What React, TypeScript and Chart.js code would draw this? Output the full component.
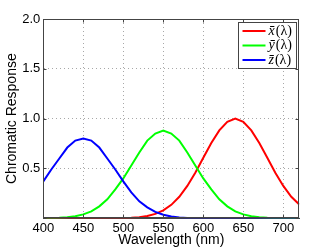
import React, { useEffect, useRef } from 'react';
import { Chart, registerables } from 'chart.js';

Chart.register(...registerables);

const wavelengths = [400, 410, 420, 430, 440, 450, 460, 470, 480, 490, 500, 510, 520, 530, 540, 550, 560, 570, 580, 590, 600, 610, 620, 630, 640, 650, 660, 670, 680, 690, 700, 710, 720];
const xBar = [0, 0, 0, 0, 0, 0, 0, 0.0001, 0.0003, 0.001, 0.002, 0.005, 0.011, 0.023, 0.044, 0.08, 0.135, 0.216, 0.325, 0.458, 0.607, 0.755, 0.882, 0.969, 1.0, 0.969, 0.882, 0.755, 0.607, 0.458, 0.325, 0.216, 0.138];
const yBar = [0.001, 0.002, 0.005, 0.01, 0.02, 0.039, 0.07, 0.12, 0.19, 0.29, 0.4, 0.53, 0.66, 0.78, 0.85, 0.88, 0.85, 0.78, 0.66, 0.53, 0.4, 0.29, 0.19, 0.12, 0.07, 0.039, 0.02, 0.01, 0.005, 0.002, 0.001, 0.0003, 0.0001];
const zBar = [0.37, 0.49, 0.6, 0.71, 0.78, 0.8, 0.78, 0.71, 0.6, 0.49, 0.37, 0.26, 0.17, 0.11, 0.064, 0.035, 0.018, 0.009, 0.004, 0.002, 0.001, 0.0003, 0.0001, 0, 0, 0, 0, 0, 0, 0, 0, 0, 0];
const symbols = ['x', 'y', 'z'];
const seriesColors = ['#ff0000', '#00ff00', '#0000ff'];
const xTicks = [400, 450, 500, 550, 600, 650, 700];
const yTicks = [0, 0.5, 1.0, 1.5, 2.0];

const SANS = '"Liberation Sans", Arial, Helvetica, sans-serif';
const SERIF = '"Liberation Serif", "Times New Roman", serif';

const framePlugin = {
  id: 'matlabFrame',
  afterDatasetsDraw(chart: any) {
    const { ctx, chartArea: a, scales } = chart;
    ctx.save();
    ctx.strokeStyle = '#444';
    ctx.lineWidth = 1;
    const L = Math.round(a.left) + 0.5;
    const R = Math.round(a.right) - 0.5;
    const T = Math.round(a.top) + 0.5;
    const B = Math.round(a.bottom) - 0.5;
    ctx.strokeRect(L, T, R - L, B - T);
    ctx.beginPath();
    const tl = 3;
    xTicks.forEach((v) => {
      const px = Math.round(scales.x.getPixelForValue(v)) + 0.5;
      ctx.moveTo(px, B); ctx.lineTo(px, B - tl);
      ctx.moveTo(px, T); ctx.lineTo(px, T + tl);
    });
    yTicks.forEach((v) => {
      const py = Math.round(scales.y.getPixelForValue(v)) + 0.5;
      ctx.moveTo(L, py); ctx.lineTo(L + tl, py);
      ctx.moveTo(R, py); ctx.lineTo(R - tl, py);
    });
    ctx.stroke();
    ctx.restore();
  },
  afterDraw(chart: any) {
    const { ctx, chartArea: a } = chart;
    const ds = chart.data.datasets;
    const boxR = Math.round(a.right) - 2.5;
    const boxT = Math.round(a.top) + 3.5;
    const boxW = 58;
    const boxH = 46;
    const boxL = boxR - boxW;
    ctx.save();
    ctx.fillStyle = '#fff';
    ctx.fillRect(boxL, boxT, boxW, boxH);
    ctx.strokeStyle = '#444';
    ctx.lineWidth = 1;
    ctx.strokeRect(boxL, boxT, boxW, boxH);
    ds.forEach((d: any, i: number) => {
      const y = boxT + 8.5 + i * 14.5;
      ctx.strokeStyle = d.borderColor;
      ctx.lineWidth = 2;
      ctx.beginPath();
      ctx.moveTo(boxL + 4, y);
      ctx.lineTo(boxL + 27, y);
      ctx.stroke();
      ctx.fillStyle = '#000';
      ctx.textBaseline = 'middle';
      ctx.textAlign = 'left';
      const sym = d.symbol as string;
      ctx.font = `italic 14px ${SERIF}`;
      const tx = boxL + 30;
      ctx.fillText(sym + '\u0304', tx, y);
      const w = ctx.measureText(sym).width;
      ctx.font = `14px ${SERIF}`;
      ctx.fillText('(λ)', tx + w + 1, y);
    });
    ctx.restore();
  },
};

export default function App() {
  const ref = useRef<HTMLCanvasElement | null>(null);
  useEffect(() => {
    document.body.style.margin = '0';
    const canvas = ref.current!;
    const series = [xBar, yBar, zBar];
    const chart = new Chart(canvas, {
      type: 'line',
      data: {
        labels: wavelengths,
        datasets: series.map((vals, i) => ({
          label: `${symbols[i]}\u0304(λ)`,
          symbol: symbols[i],
          data: vals.map((v, j) => ({ x: wavelengths[j], y: v })),
          borderColor: seriesColors[i],
          backgroundColor: seriesColors[i],
          borderWidth: 2,
          pointRadius: 0,
          tension: 0,
          fill: false,
          order: 2 - i,
        })) as any,
      },
      options: {
        animation: false,
        responsive: false,
        devicePixelRatio: 1,
        layout: { padding: { top: 19, right: 32.7, left: 0, bottom: 0 } },
        plugins: { legend: { display: false }, tooltip: { enabled: false } },
        scales: {
          x: {
            type: 'linear',
            min: 400,
            max: 720,
            afterBuildTicks: (s: any) => { s.ticks = xTicks.map((v) => ({ value: v })); },
            afterFit: (s: any) => { s.height = 31.7; },
            ticks: {
              autoSkip: false,
              maxRotation: 0,
              padding: 2,
              color: '#000',
              font: { family: SANS, size: 13 },
              callback: (v: any) => String(v),
            },
            grid: { color: '#a8a8a8', lineWidth: 1, drawTicks: false },
            border: { display: true, color: '#444', width: 1, dash: [1, 3] },
            title: {
              display: true,
              text: 'Wavelength (nm)',
              color: '#000',
              font: { family: SANS, size: 14 },
              padding: { top: 0, bottom: 1 },
            },
          },
          y: {
            type: 'linear',
            min: 0,
            max: 2,
            afterBuildTicks: (s: any) => { s.ticks = yTicks.map((v) => ({ value: v })); },
            afterFit: (s: any) => { s.width = 43.3; },
            ticks: {
              padding: 3,
              color: '#000',
              font: { family: SANS, size: 13 },
              callback: (v: any) => (Number(v) === 0 ? '' : Number(v).toFixed(1)),
            },
            grid: { color: '#a8a8a8', lineWidth: 1, drawTicks: false },
            border: { display: true, color: '#444', width: 1, dash: [1, 3] },
            title: {
              display: true,
              text: 'Chromatic Response',
              color: '#000',
              font: { family: SANS, size: 14 },
              padding: { top: 3.3, bottom: 0 },
            },
          },
        },
      },
      plugins: [framePlugin],
    });
    return () => chart.destroy();
  }, []);
  return (
    <div style={{ position: 'absolute', left: 0, top: 0, width: 332, height: 250, background: '#fff' }}>
      <canvas ref={ref} width={332} height={250} style={{ width: 332, height: 250, display: 'block' }} />
    </div>
  );
}
